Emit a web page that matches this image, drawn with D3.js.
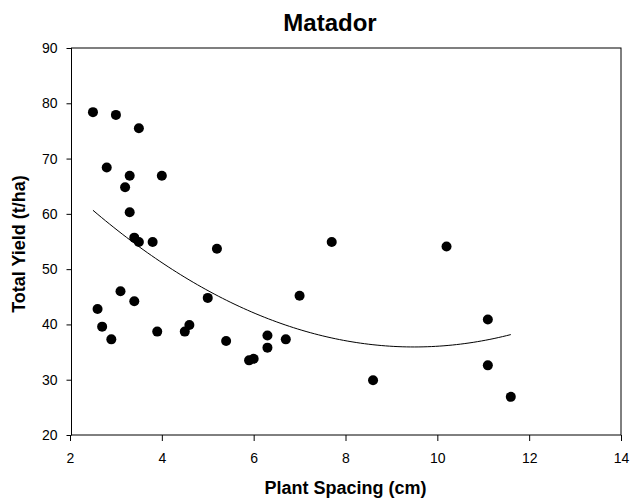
<!DOCTYPE html>
<html>
<head>
<meta charset="utf-8">
<script src="https://d3js.org/d3.v7.min.js"></script>
<style>
  body { margin: 0; background: #fff; }
  text { font-family: "Liberation Sans", Arial, sans-serif; fill: #000; }
  .title { font-size: 24px; font-weight: bold; }
  .axis-label { font-size: 18px; font-weight: bold; }
  .axis text { font-size: 14px; }
  .axis path, .axis line { stroke: #000; stroke-width: 1; }
</style>
</head>
<body>
<script>
// plant spacing (cm) and total yield (t/ha)
var spacing = [2.5, 3.0, 3.5, 2.8, 3.3, 4.0, 3.2, 3.3, 3.4, 3.5, 3.8, 5.2,
               2.6, 3.1, 3.4, 2.7, 2.9, 3.9, 4.5, 4.6, 5.0, 5.4, 5.9, 6.0,
               10.2, 7.7, 7.0, 6.3, 6.3, 6.7, 8.6, 11.1, 11.1, 11.6];
var yieldTha = [78.4, 77.9, 75.5, 68.4, 66.9, 66.9, 64.8, 60.3, 55.7, 54.9, 54.9, 53.7,
                42.8, 46.0, 44.2, 39.6, 37.3, 38.7, 38.7, 39.9, 44.8, 37.0, 33.5, 33.8,
                54.1, 54.9, 45.2, 38.0, 35.8, 37.3, 29.9, 40.9, 32.6, 26.9];
var xTicks = [2, 4, 6, 8, 10, 12, 14];
var yTicks = [20, 30, 40, 50, 60, 70, 80, 90];

var width = 630, height = 499;
var margin = {left: 70, right: 9, top: 48, bottom: 64};

var svg = d3.select("body").append("svg")
    .attr("width", width)
    .attr("height", height);

var x = d3.scaleLinear().domain([2, 14]).range([margin.left, width - margin.right]);
var y = d3.scaleLinear().domain([20, 90]).range([height - margin.bottom, margin.top]);

// frame
svg.append("rect")
    .attr("x", x(2) + 1.5)
    .attr("y", y(90))
    .attr("width", x(14) - x(2) - 1.5)
    .attr("height", y(20) - y(90))
    .attr("fill", "none")
    .attr("stroke", "#000");

svg.append("g")
    .attr("class", "axis")
    .attr("transform", "translate(0," + y(20) + ")")
    .call(d3.axisBottom(x).tickValues(xTicks).tickSize(6).tickPadding(12).tickFormat(d3.format("d")))
    .call(g => g.select(".domain").remove());

svg.append("g")
    .attr("class", "axis")
    .attr("transform", "translate(" + (x(2) + 1.5) + ",0)")
    .call(d3.axisLeft(y).tickValues(yTicks).tickSize(5).tickPadding(9).tickFormat(d3.format("d")))
    .call(g => g.select(".domain").remove());

// quadratic least-squares fit
function quadFit(xs, ys) {
  var s = [0, 0, 0, 0, 0], t = [0, 0, 0];
  for (var i = 0; i < xs.length; i++) {
    var p = 1;
    for (var k = 0; k < 5; k++) { s[k] += p; if (k < 3) t[k] += p * ys[i]; p *= xs[i]; }
  }
  var A = [[s[0], s[1], s[2], t[0]], [s[1], s[2], s[3], t[1]], [s[2], s[3], s[4], t[2]]];
  for (var c = 0; c < 3; c++) {
    for (var r = c + 1; r < 3; r++) {
      var f = A[r][c] / A[c][c];
      for (var j = c; j < 4; j++) A[r][j] -= f * A[c][j];
    }
  }
  var b = [0, 0, 0];
  for (var r2 = 2; r2 >= 0; r2--) {
    var v = A[r2][3];
    for (var j2 = r2 + 1; j2 < 3; j2++) v -= A[r2][j2] * b[j2];
    b[r2] = v / A[r2][r2];
  }
  return b;
}
var coef = quadFit(spacing, yieldTha);
var xmin = d3.min(spacing), xmax = d3.max(spacing);
var fitPts = d3.range(0, 101).map(function(i) {
  var xv = xmin + (xmax - xmin) * i / 100;
  return [xv, coef[0] + coef[1] * xv + coef[2] * xv * xv];
});

svg.append("path")
    .datum(fitPts)
    .attr("fill", "none")
    .attr("stroke", "#000")
    .attr("stroke-width", 1)
    .attr("d", d3.line().x(d => x(d[0])).y(d => y(d[1])));

svg.append("g").selectAll("circle")
    .data(spacing)
    .enter()
    .append("circle")
    .attr("cx", d => x(d))
    .attr("cy", (d, i) => y(yieldTha[i]))
    .attr("r", 5)
    .attr("fill", "#000");

svg.append("text")
    .attr("class", "title")
    .attr("x", 330)
    .attr("y", 31)
    .attr("text-anchor", "middle")
    .text("Matador");

svg.append("text")
    .attr("class", "axis-label")
    .attr("x", (x(2) + x(14)) / 2)
    .attr("y", 494)
    .attr("text-anchor", "middle")
    .text("Plant Spacing (cm)");

svg.append("text")
    .attr("class", "axis-label")
    .attr("transform", "translate(25,244) rotate(-90)")
    .attr("text-anchor", "middle")
    .text("Total Yield (t/ha)");
</script>
</body>
</html>
